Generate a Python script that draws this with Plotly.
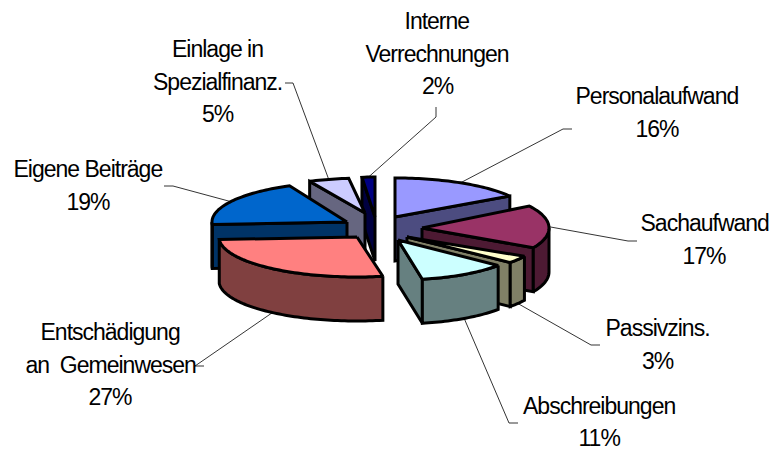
import math
import plotly.graph_objects as go

categories = ["Personalaufwand", "Sachaufwand", "Passivzins.", "Abschreibungen",
              "Entschädigung an Gemeinwesen", "Eigene Beiträge",
              "Einlage in Spezialfinanz.", "Interne Verrechnungen"]
percent = [16, 17, 3, 11, 27, 19, 5, 2]
top_colors = ["#9999FF", "#993366", "#FFFFCC", "#CCFFFF", "#FF8080", "#0066CC", "#CCCCFF", "#000080"]
wall_colors = ["#4C4C80", "#4D1A33", "#808066", "#668080", "#804040", "#003366", "#666680", "#000040"]

# layout of the exploded pie (pixels)
apex_x = [395, 422, 407, 398, 357, 347, 365, 375]
apex_y = [217, 228, 237, 240, 237, 222, 213, 217]
radius_x = [136, 127, 134, 130, 138, 135, 130, 104]
radius_y = [39, 41, 40, 40, 40, 40, 35, 40]
DEPTH = 44

label_lines = [["Personalaufwand", "16%"], ["Sachaufwand", "17%"], ["Passivzins.", "3%"],
               ["Abschreibungen", "11%"], ["Entschädigung", "an  Gemeinwesen", "27%"],
               ["Eigene Beiträge", "19%"], ["Einlage in", "Spezialfinanz.", "5%"],
               ["Interne", "Verrechnungen", "2%"]]
label_cx = [657, 704, 657, 599, 110, 88, 217, 437]
label_y0 = [96, 223, 328, 405.5, 332, 169, 49, 21]
elbow_a = [(572, 129), (637, 241), (600, 345), (518, 423), (204, 366), (164, 186), (285, 83), (436, 107)]
elbow_b = [(563, 129), (628, 241), (591, 345), (509, 423), (195, 366), (173, 186), (293, 83), (436, 117)]
LINE_STEP = 32.5
FONT = "Liberation Sans"
FONT_SIZE = 23

fig = go.Figure()


def poly(xs, ys, color):
    fig.add_trace(go.Scatter(x=xs, y=ys, mode="lines", fill="toself", fillcolor=color,
                             line=dict(color="black", width=3, simplify=False),
                             hoverinfo="skip", showlegend=False))


def pt(i, a):
    return apex_x[i] + radius_x[i] * math.sin(a), apex_y[i] - radius_y[i] * math.cos(a)


def arc(i, a0, a1):
    n = max(2, int(abs(a1 - a0) * 40))
    pts = [pt(i, a0 + (a1 - a0) * k / n) for k in range(n + 1)]
    return [p[0] for p in pts], [p[1] for p in pts]


spans = []
cum = 0
for v in percent:
    spans.append((cum / 100 * 2 * math.pi, (cum + v) / 100 * 2 * math.pi))
    cum += v

order = [7, 6, 5, 0, 1, 2, 3, 4]
for i in order:
    a0, a1 = spans[i]
    cx, cy = apex_x[i], apex_y[i]
    wall = wall_colors[i]
    # radial walls that face the viewer
    for a, normal in ((a0, a0 - math.pi / 2), (a1, a1 + math.pi / 2)):
        if math.cos(normal) < 0:
            px, py = pt(i, a)
            poly([cx, px, px, cx, cx], [cy, py, py + DEPTH, cy + DEPTH, cy], wall)
    # outer rim wall
    lo, hi = max(a0, math.pi / 2), min(a1, 3 * math.pi / 2)
    if hi > lo:
        xs, ys = arc(i, lo, hi)
        poly(xs + xs[::-1] + xs[:1], ys + [y + DEPTH for y in ys[::-1]] + ys[:1], wall)
    # top face
    xs, ys = arc(i, a0, a1)
    poly([cx] + xs + [cx], [cy] + ys + [cy], top_colors[i])

# leader lines, anchored on each slice's rim at its mid angle
for i in range(len(percent)):
    a0, a1 = spans[i]
    mid = (a0 + a1) / 2
    px, py = pt(i, mid)
    if math.cos(mid) < 0:
        py += DEPTH
    xs = [elbow_a[i][0], elbow_b[i][0], px]
    ys = [elbow_a[i][1], elbow_b[i][1], py]
    fig.add_trace(go.Scatter(x=xs, y=ys, mode="lines", line=dict(color="black", width=0.8),
                             hoverinfo="skip", showlegend=False))

annotations = []
for i, lines in enumerate(label_lines):
    for j, t in enumerate(lines):
        annotations.append(dict(x=label_cx[i], y=label_y0[i] + j * LINE_STEP, text=t, showarrow=False,
                                xref="x", yref="y", xanchor="center", yanchor="middle",
                                font=dict(family=FONT, size=FONT_SIZE, color="black")))

fig.update_layout(width=771, height=450, margin=dict(l=0, r=0, t=0, b=0),
                  paper_bgcolor="white", plot_bgcolor="white", showlegend=False,
                  annotations=annotations,
                  xaxis=dict(range=[0, 771], visible=False, fixedrange=True),
                  yaxis=dict(range=[450, 0], visible=False, fixedrange=True))
post = ("document.body.style.margin='0';"
        "document.querySelectorAll('.annotation-text').forEach(function(e){e.style.letterSpacing='-1px';});")
fig.write_html("out.html", config={"displayModeBar": False}, post_script=post)
